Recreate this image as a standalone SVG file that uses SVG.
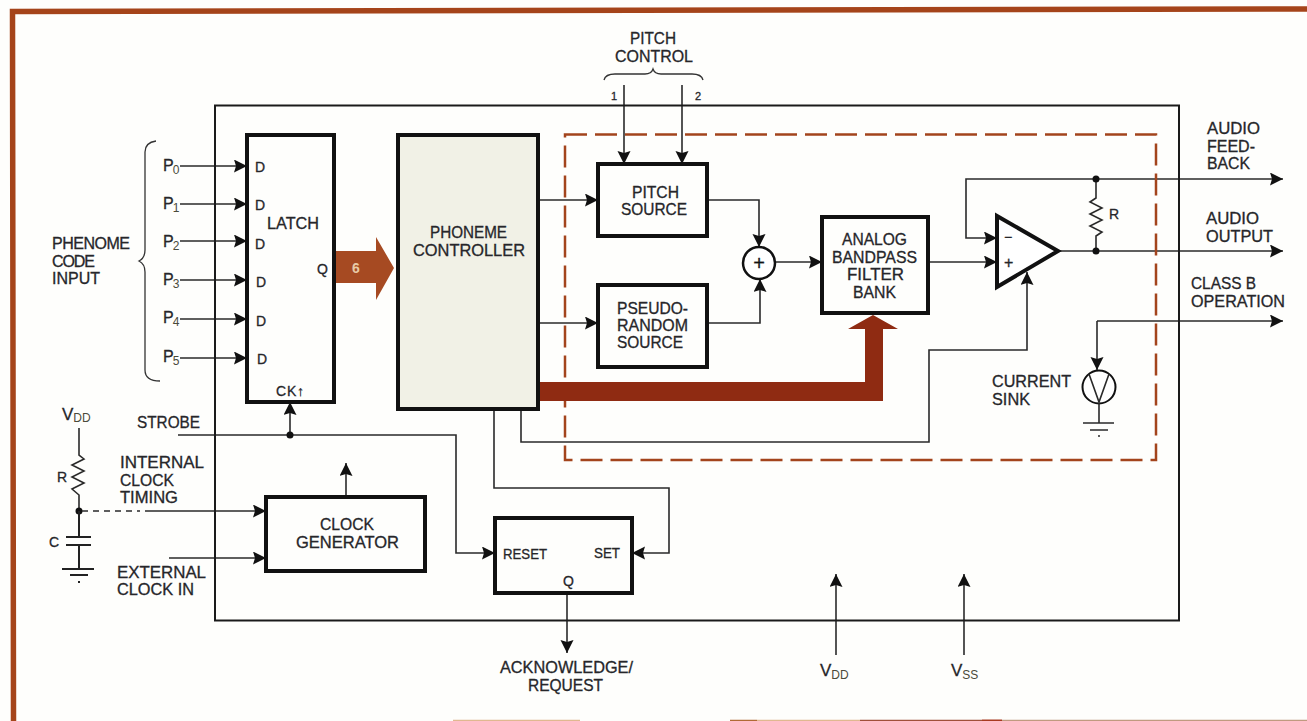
<svg xmlns="http://www.w3.org/2000/svg" width="1307" height="721" viewBox="0 0 1307 721">
<style>
text{font-family:"Liberation Sans",Arial,sans-serif;font-size:16px;fill:#26262a;stroke:#26262a;stroke-width:.3}
.s{font-size:14px}
.sub{font-size:12px;fill:#4a4a3a;stroke:none}
.box{fill:none;stroke:#111;stroke-width:4}
.ln{fill:none;stroke:#2a2a2a;stroke-width:1.6}
.la{fill:none;stroke:#2a2a2a;stroke-width:1.6;marker-end:url(#a)}
.thin{fill:none;stroke:#333;stroke-width:1.3}
</style>
<defs>
<marker id="a" markerUnits="userSpaceOnUse" markerWidth="14" markerHeight="14" refX="13" refY="6.500" orient="auto"><path d="M0 0L13 6.500L0 13L2 6.500Z" fill="#111"/></marker>
</defs>
<rect width="1307" height="721" fill="#fefefc"/>
<g id="frame">
<path d="M13.500 721L12.500 11.500L1307 9" fill="none" stroke="#a5441a" stroke-width="5.500"/>
<path d="M730 720.500H757" stroke="#b06a35" stroke-width="1.500"/><path d="M757 720.500H860" stroke="#e0b890" stroke-width="1.500"/><path d="M860 720.500H982" stroke="#a0503a" stroke-width="1.500"/><path d="M982 720.500H1002" stroke="#a83a20" stroke-width="2"/><path d="M1002 720.500H1307" stroke="#c09a80" stroke-width="1.500"/><path d="M453 720.500H580" stroke="#e0b890" stroke-width="1.500"/>
</g>
<g id="connectors">
<path class="la" d="M180 166H247"/><path class="la" d="M180 204H247"/><path class="la" d="M180 241H247"/><path class="la" d="M180 280H247"/><path class="la" d="M180 319H247"/><path class="la" d="M180 358H247"/>
<path class="thin" d="M156 141C149 142 145 145 145 152V250C145 256 143 259 139 261C143 263 145 266 145 272V370C145 377 149 381 160 381"/>
<path class="thin" d="M604 80C605 76 609 74 615 74H645C650 74 652 72 653 69C654 72 656 74 661 74H692C698 74 702 76 703 80"/>
<path class="la" d="M624 85V164"/><path class="la" d="M682 85V164"/>
<path class="la" d="M538 200H598"/><path class="la" d="M538 323H598"/>
<path class="la" d="M707 200H759V247"/><path class="la" d="M707 323H760V279"/><path class="la" d="M775 262H822"/>
<path class="la" d="M928 262H997"/>
<path class="la" d="M1058 251H1283"/>
<path class="la" d="M1096 179H966V238H997"/><path class="la" d="M1096 179H1283"/>
<path class="ln" d="M1096 179V198L1090 202L1102 208L1090 214L1102 220L1090 226L1102 232L1096 236V251"/>
<circle cx="1096" cy="179" r="3.500" fill="#111"/><circle cx="1096" cy="251" r="3.500" fill="#111"/>
<path class="la" d="M1097 321V370"/><path class="la" d="M1097 321H1283"/>
<path class="la" d="M521 409V442H929V350H1027V272"/>
<path class="la" d="M178 435H456V553H495"/>
<path class="la" d="M290 435V402"/><circle cx="290" cy="435" r="3.500" fill="#111"/>
<path class="la" d="M494 409V488H669V553H632"/>
<path class="la" d="M567 593V653"/><path class="la" d="M836 655V574"/><path class="la" d="M964 655V574"/>
<path class="la" d="M346 497V463"/>
<path class="ln" d="M79 428V455L84 459L72 465L84 471L72 477L84 483L72 489L79 495V537"/>
<circle cx="79" cy="511" r="3.500" fill="#111"/>
<path class="ln" stroke-dasharray="6 5" d="M82 511H140"/>
<path class="la" d="M145 511H266"/><path class="la" d="M169 558H266"/>
</g>
<g id="main-box"><rect x="215" y="105.500" width="964" height="515" fill="none" stroke="#1a1a1a" stroke-width="2"/></g>
<g id="dashed-region"><rect x="565" y="134.500" width="591" height="325.500" fill="none" stroke="#a3441c" stroke-width="2.500" stroke-dasharray="22 8"/></g>
<g id="bus-6"><path d="M335 251H376V237L394 268L376 300V283H335Z" fill="#a64a22"/><text x="352" y="273" class="s" style="fill:#e8caa6;stroke:none;font-weight:bold">6</text></g>
<g id="bus-bottom"><path d="M540 382H865V329H848L873 315L898 329H883V401H540Z" fill="#8f2b12"/></g>
<g id="phoneme-input-label">
<text x="52" y="249" textLength="78" lengthAdjust="spacing">PHENOME</text>
<text x="52" y="267" textLength="43" lengthAdjust="spacing">CODE</text>
<text x="52" y="284" textLength="48" lengthAdjust="spacing">INPUT</text>
<text x="163" y="171">P<tspan class="sub" dy="3" dx="-1">0</tspan></text>
<text x="163" y="209">P<tspan class="sub" dy="3" dx="-1">1</tspan></text>
<text x="163" y="247">P<tspan class="sub" dy="3" dx="-1">2</tspan></text>
<text x="163" y="285">P<tspan class="sub" dy="3" dx="-1">3</tspan></text>
<text x="163" y="323">P<tspan class="sub" dy="3" dx="-1">4</tspan></text>
<text x="163" y="362">P<tspan class="sub" dy="3" dx="-1">5</tspan></text>
</g>
<g id="latch"><rect class="box" x="247" y="135" width="87" height="267"/>
<text class="s" x="255" y="172">D</text><text class="s" x="255" y="210">D</text><text class="s" x="255" y="249">D</text><text class="s" x="256" y="287">D</text><text class="s" x="256" y="326">D</text><text class="s" x="257" y="364">D</text>
<text x="267" y="229" textLength="52" lengthAdjust="spacingAndGlyphs">LATCH</text>
<text class="s" x="317" y="274">Q</text>
<text class="s" x="276" y="396" textLength="28">CK↑</text></g>
<g id="controller"><rect x="398" y="135" width="140" height="274" fill="#f1f1e6" stroke="#111" stroke-width="4"/>
<text x="430" y="238" textLength="77" lengthAdjust="spacingAndGlyphs">PHONEME</text>
<text x="413" y="256" textLength="112" lengthAdjust="spacingAndGlyphs">CONTROLLER</text></g>
<g id="pitch-control"><text x="630" y="44" textLength="46" lengthAdjust="spacingAndGlyphs">PITCH</text><text x="615" y="62" textLength="78" lengthAdjust="spacingAndGlyphs">CONTROL</text>
<text x="611" y="100" style="font-size:11px">1</text><text x="695" y="100" style="font-size:11px">2</text></g>
<g id="pitch-source"><rect class="box" x="598" y="164" width="109" height="72"/>
<text x="632" y="198" textLength="47" lengthAdjust="spacingAndGlyphs">PITCH</text><text x="621" y="215" textLength="66" lengthAdjust="spacingAndGlyphs">SOURCE</text></g>
<g id="pseudo-source"><rect class="box" x="598" y="285" width="109" height="82"/>
<text x="617" y="314" textLength="71" lengthAdjust="spacingAndGlyphs">PSEUDO-</text><text x="617" y="331" textLength="71" lengthAdjust="spacingAndGlyphs">RANDOM</text><text x="617" y="348" textLength="66" lengthAdjust="spacingAndGlyphs">SOURCE</text></g>
<g id="summer"><circle cx="759" cy="263" r="16" fill="#fff" stroke="#111" stroke-width="2.500"/><text x="759" y="270" text-anchor="middle" style="font-size:20px;fill:#111">+</text></g>
<g id="filter-bank"><rect class="box" x="822" y="217" width="106" height="96"/>
<text x="842" y="245" textLength="65" lengthAdjust="spacingAndGlyphs">ANALOG</text><text x="832" y="263" textLength="85" lengthAdjust="spacingAndGlyphs">BANDPASS</text><text x="847" y="280" textLength="57" lengthAdjust="spacingAndGlyphs">FILTER</text><text x="853" y="298" textLength="43" lengthAdjust="spacingAndGlyphs">BANK</text></g>
<g id="opamp"><path d="M997 216V287L1058 251Z" fill="#fff" stroke="#111" stroke-width="4"/>
<text x="1004" y="242" style="font-size:14px">−</text><text x="1004" y="268" style="font-size:16px">+</text></g>
<g id="feedback-labels"><text x="1109" y="219" class="s">R</text>
<text x="1207" y="134" textLength="53" lengthAdjust="spacingAndGlyphs">AUDIO</text><text x="1207" y="152" textLength="48" lengthAdjust="spacingAndGlyphs">FEED-</text><text x="1207" y="169" textLength="43" lengthAdjust="spacingAndGlyphs">BACK</text>
<text x="1206" y="224" textLength="53" lengthAdjust="spacingAndGlyphs">AUDIO</text><text x="1206" y="242" textLength="67" lengthAdjust="spacingAndGlyphs">OUTPUT</text>
<text x="1191" y="289" textLength="65" lengthAdjust="spacingAndGlyphs">CLASS B</text><text x="1191" y="307" textLength="94" lengthAdjust="spacingAndGlyphs">OPERATION</text></g>
<g id="current-sink"><circle cx="1099" cy="387" r="16.500" fill="#fff" stroke="#111" stroke-width="2"/><path class="ln" d="M1089 374L1099 402L1109 374M1099 403V423M1083 423H1114M1090 430H1108M1098 436H1100"/>
<text x="992" y="387" textLength="79" lengthAdjust="spacingAndGlyphs">CURRENT</text><text x="992" y="405" textLength="38" lengthAdjust="spacingAndGlyphs">SINK</text></g>
<g id="rc-network"><text x="62" y="420" style="font-size:17px">V<tspan class="sub" dy="2">DD</tspan></text><text x="57" y="482" class="s">R</text><text x="49" y="547" class="s">C</text>
<path d="M79 511V537M66 537H91M66 545H91M79 545V569M62 569H94M70 575H88M78 582H80" fill="none" stroke="#222" stroke-width="2"/></g>
<g id="clock-labels"><text x="137" y="428" textLength="63" lengthAdjust="spacingAndGlyphs">STROBE</text>
<text x="120" y="468" textLength="84" lengthAdjust="spacingAndGlyphs">INTERNAL</text><text x="120" y="486" textLength="54" lengthAdjust="spacingAndGlyphs">CLOCK</text><text x="120" y="503" textLength="58" lengthAdjust="spacingAndGlyphs">TIMING</text>
<text x="117" y="578" textLength="89" lengthAdjust="spacingAndGlyphs">EXTERNAL</text><text x="117" y="595" textLength="77" lengthAdjust="spacingAndGlyphs">CLOCK IN</text></g>
<g id="clock-generator"><rect class="box" x="266" y="497" width="159" height="74"/>
<text x="320" y="530" textLength="54" lengthAdjust="spacingAndGlyphs">CLOCK</text><text x="296" y="548" textLength="103" lengthAdjust="spacingAndGlyphs">GENERATOR</text></g>
<g id="reset-set"><rect class="box" x="495" y="518" width="137" height="75"/>
<text class="s" x="503" y="559" textLength="44" lengthAdjust="spacingAndGlyphs">RESET</text><text class="s" x="594" y="558" textLength="26" lengthAdjust="spacingAndGlyphs">SET</text><text class="s" x="563" y="586">Q</text></g>
<g id="bottom-labels"><text x="500" y="673" textLength="133" lengthAdjust="spacingAndGlyphs">ACKNOWLEDGE/</text><text x="528" y="691" textLength="75" lengthAdjust="spacingAndGlyphs">REQUEST</text>
<text x="820" y="676" style="font-size:17px">V<tspan class="sub" dy="3">DD</tspan></text><text x="951" y="676" style="font-size:17px">V<tspan class="sub" dy="3">SS</tspan></text></g>
</svg>
